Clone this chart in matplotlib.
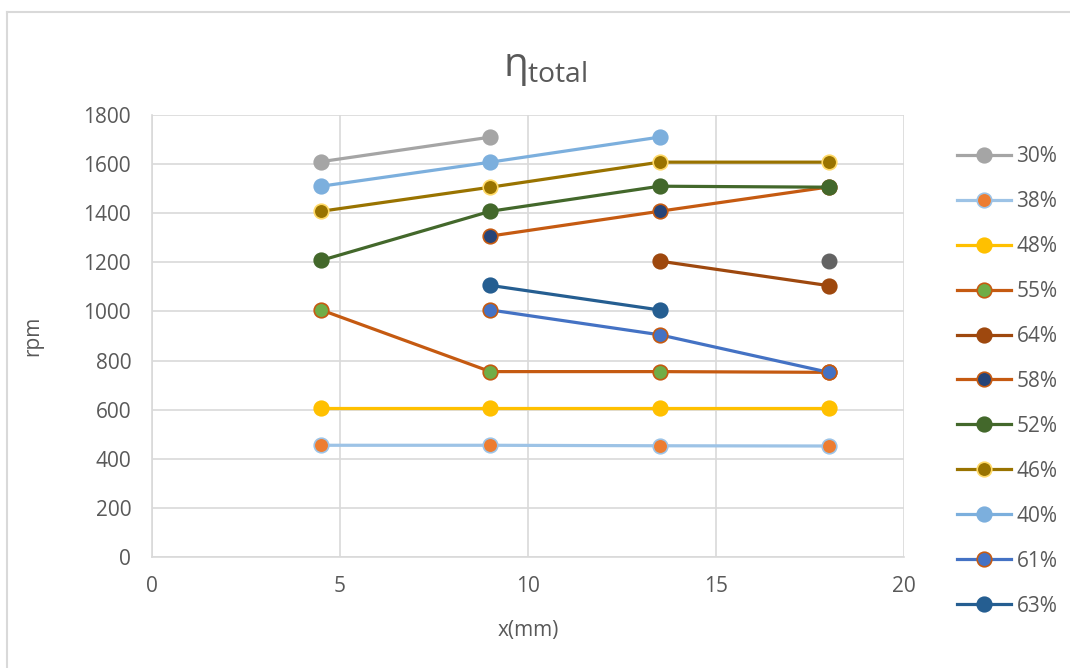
import numpy as np
import matplotlib.pyplot as plt
from matplotlib.lines import Line2D

plt.rcParams['font.family'] = ['Open Sans', 'DejaVu Sans']
plt.rcParams['mathtext.fontset'] = 'custom'
plt.rcParams['mathtext.rm'] = 'Open Sans'
plt.rcParams['mathtext.it'] = 'Open Sans'

nan = np.nan
x_mm = [4.5, 9, 13.5, 18]

labels = ['30%', '38%', '48%', '55%', '64%', '58%', '52%', '46%', '40%', '61%', '63%']
rpm_30 = [1610, 1710, nan, nan]
rpm_38 = [455, 455, 453, 452]
rpm_48 = [605, 605, 605, 605]
rpm_55 = [1006, 755, 755, 752]
rpm_64 = [nan, nan, 1205, 1105]
rpm_58 = [nan, 1307, 1408, 1507]
rpm_52 = [1208, 1408, 1510, 1506]
rpm_46 = [1408, 1506, 1608, 1608]
rpm_40 = [1510, 1608, 1710, nan]
rpm_61 = [nan, 1006, 905, 752]
rpm_63 = [nan, 1106, 1006, nan]
rpm_extra = [nan, nan, nan, 1205]

all_rpm = [rpm_30, rpm_38, rpm_48, rpm_55, rpm_64, rpm_58,
           rpm_52, rpm_46, rpm_40, rpm_61, rpm_63]

# (line colour, marker face, marker edge)
styles = [
    ('#A5A5A5', '#A5A5A5', '#A5A5A5'),
    ('#9DC3E6', '#ED7D31', '#9DC3E6'),
    ('#FFC000', '#FFC000', '#FFC000'),
    ('#C55A11', '#70AD47', '#C55A11'),
    ('#9E480E', '#9E480E', '#9E480E'),
    ('#C55A11', '#264478', '#C55A11'),
    ('#43682B', '#43682B', '#43682B'),
    ('#997300', '#997300', '#FFD966'),
    ('#7CAFDD', '#7CAFDD', '#7CAFDD'),
    ('#4472C4', '#4472C4', '#C55A11'),
    ('#255E91', '#255E91', '#255E91'),
]

fig = plt.figure(figsize=(10.7, 6.68), dpi=100)
ax = fig.add_axes([152 / 1070, 1 - 557 / 668, (904 - 152) / 1070, (557 - 115) / 668])

for lab, y, (lc, fc, ec) in zip(labels, all_rpm, styles):
    ax.plot(x_mm, y, color=lc, linewidth=2.3, marker='o', markersize=10.5,
            markerfacecolor=fc, markeredgecolor=ec, markeredgewidth=1.2,
            label=lab, zorder=3)
ax.plot(x_mm, rpm_extra, linestyle='none', marker='o', markersize=10.5,
        color='#636363', zorder=3)

ax.set_xlim(0, 20)
ax.set_ylim(0, 1800)
ax.set_xticks(range(0, 21, 5))
ax.set_yticks(range(0, 1801, 200))
ax.grid(True, color='#D9D9D9', linewidth=1.2, zorder=0)
ax.set_axisbelow(True)
for side in ['top', 'right']:
    ax.spines[side].set_visible(False)
for side in ['left', 'bottom']:
    ax.spines[side].set_color('#D9D9D9')
    ax.spines[side].set_linewidth(1.2)
ax.tick_params(length=0, labelsize=15, labelcolor='#595959')
ax.tick_params(axis='y', pad=15)
ax.tick_params(axis='x', pad=14)

ax.set_ylabel('rpm', fontsize=15, color='#595959', labelpad=29)
ax.set_xlabel('x(mm)', fontsize=15, color='#595959', labelpad=16)
fig.text(545 / 1070, 1 - 68 / 668, r'$\eta_{\mathrm{total}}$', fontsize=29,
         color='#595959', ha='center', va='center')

leg = ax.legend(loc='upper left', bbox_to_anchor=(957 / 1070, 1 - 146 / 668),
                bbox_transform=fig.transFigure, frameon=False,
                fontsize=15, labelspacing=1.15, handlelength=2.6,
                handletextpad=0.25, borderaxespad=0, borderpad=0)
for t in leg.get_texts():
    t.set_color('#595959')

# outer chart frame
fig.add_artist(Line2D([7 / 1070, 7 / 1070], [0, 1 - 12 / 668], color='#D9D9D9',
                      linewidth=1.5, transform=fig.transFigure))
fig.add_artist(Line2D([7 / 1070, 1], [1 - 12 / 668, 1 - 12 / 668], color='#D9D9D9',
                      linewidth=1.5, transform=fig.transFigure))

fig.savefig('out.png', dpi=100)
